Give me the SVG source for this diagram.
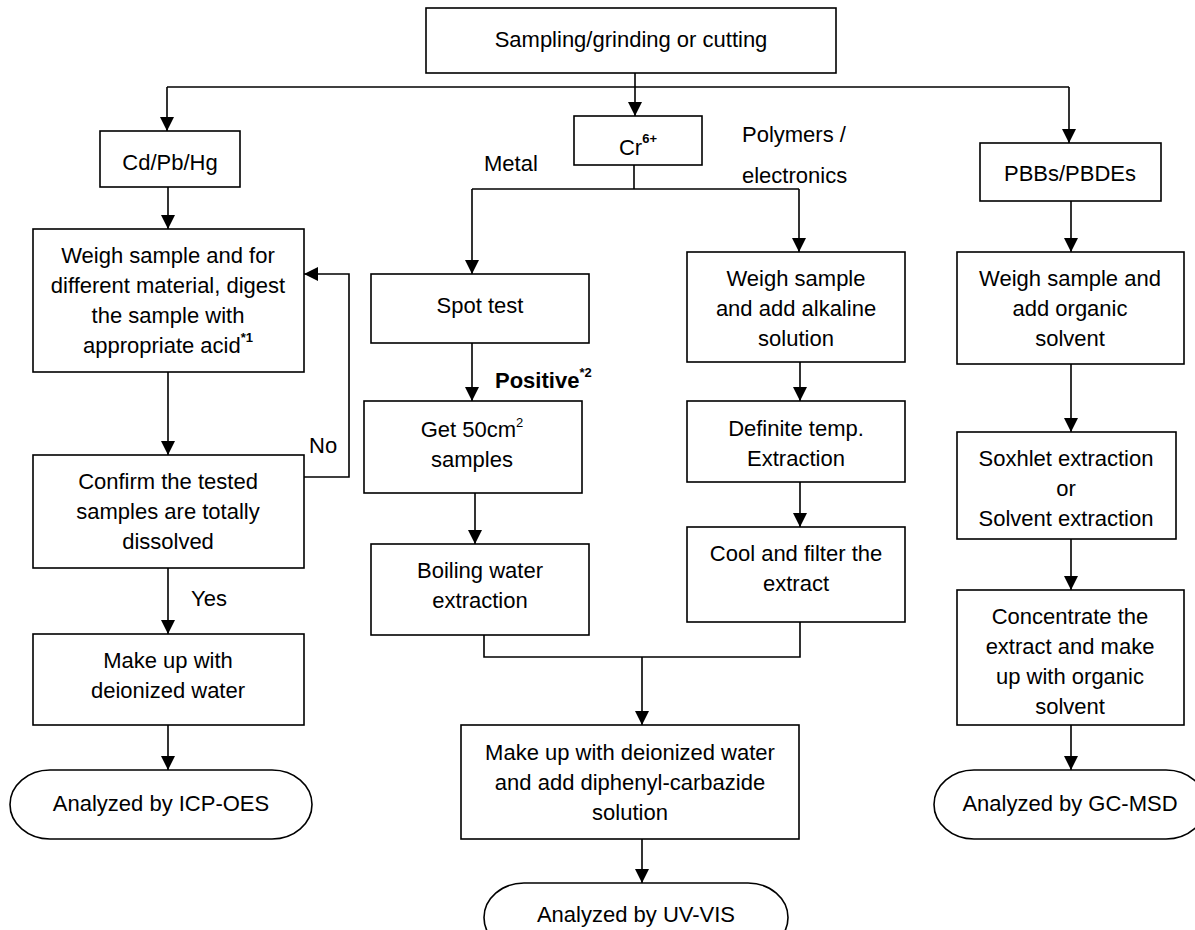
<svg xmlns="http://www.w3.org/2000/svg" width="1195" height="930" viewBox="0 0 1195 930">
<style>
rect, .oval { fill: #fff; stroke: #000; stroke-width: 1.6; }
text { font-family: "Liberation Sans", Arial, sans-serif; font-size: 22px; fill: #000; }
.c { text-anchor: middle; }
.b { font-weight: bold; }
.sup { font-size: 13px; font-weight: bold; }
.supr { font-size: 13px; }
#connectors path { fill: none; stroke: #000; stroke-width: 1.6; }
</style>
<defs>
<marker id="arr" markerUnits="userSpaceOnUse" markerWidth="14" markerHeight="14" refX="14" refY="7" orient="auto">
<path d="M0,0 L14,7 L0,14 z" fill="#000"/>
</marker>
</defs>
<rect x="0" y="0" width="1195" height="930" style="fill:#fff;stroke:none"/>

<g id="connectors">
<path d="M635,73 V116" marker-end="url(#arr)"/>
<path d="M167,87 H1069"/>
<path d="M167,87 V131" marker-end="url(#arr)"/>
<path d="M1069,87 V143" marker-end="url(#arr)"/>
<path d="M168,187 V229" marker-end="url(#arr)"/>
<path d="M634,165 V189"/>
<path d="M472,189 H799"/>
<path d="M472,189 V274" marker-end="url(#arr)"/>
<path d="M799,189 V252" marker-end="url(#arr)"/>
<path d="M1071,201 V252" marker-end="url(#arr)"/>
<path d="M168,372 V455" marker-end="url(#arr)"/>
<path d="M304,477 H349 V274 H304" marker-end="url(#arr)"/>
<path d="M168,568 V634" marker-end="url(#arr)"/>
<path d="M168,725 V770" marker-end="url(#arr)"/>
<path d="M472,343 V401" marker-end="url(#arr)"/>
<path d="M475,493 V544" marker-end="url(#arr)"/>
<path d="M800,362 V401" marker-end="url(#arr)"/>
<path d="M800,482 V527" marker-end="url(#arr)"/>
<path d="M484,635 V657 H800 V622"/>
<path d="M642,657 V725" marker-end="url(#arr)"/>
<path d="M642,839 V883" marker-end="url(#arr)"/>
<path d="M1071,364 V432" marker-end="url(#arr)"/>
<path d="M1071,539 V590" marker-end="url(#arr)"/>
<path d="M1071,725 V770" marker-end="url(#arr)"/>
</g>

<g id="labels">
<text x="484" y="171">Metal</text>
<text x="742" y="142">Polymers /</text>
<text x="742" y="183">electronics</text>
<text x="309" y="453">No</text>
<text x="191" y="606">Yes</text>
<text x="495" y="388" class="b">Positive<tspan class="sup" dy="-11">*2</tspan></text>
</g>

<g id="n-sampling">
<rect x="426" y="8" width="410" height="65"/>
<text x="631" y="47" class="c">Sampling/grinding or cutting</text>
</g>

<g id="n-cdpbhg">
<rect x="100" y="131" width="140" height="56"/>
<text x="170" y="170" class="c">Cd/Pb/Hg</text>
</g>

<g id="n-cr">
<rect x="574" y="116" width="128" height="49"/>
<text x="638" y="155" class="c">Cr<tspan class="sup" dy="-12">6+</tspan></text>
</g>

<g id="n-pbbs">
<rect x="980" y="143" width="181" height="58"/>
<text x="1070" y="181" class="c">PBBs/PBDEs</text>
</g>

<g id="n-weigh-acid">
<rect x="33" y="229" width="271" height="143"/>
<text x="168" y="263" class="c">Weigh sample and for</text>
<text x="168" y="293" class="c">different material, digest</text>
<text x="168" y="323" class="c">the sample with</text>
<text x="168" y="353" class="c">appropriate acid<tspan class="sup" dy="-11">*1</tspan></text>
</g>

<g id="n-spot">
<rect x="371" y="274" width="218" height="69"/>
<text x="480" y="313" class="c">Spot test</text>
</g>

<g id="n-weigh-alk">
<rect x="687" y="252" width="218" height="110"/>
<text x="796" y="286" class="c">Weigh sample</text>
<text x="796" y="316" class="c">and add alkaline</text>
<text x="796" y="346" class="c">solution</text>
</g>

<g id="n-weigh-org">
<rect x="957" y="252" width="227" height="112"/>
<text x="1070" y="286" class="c">Weigh sample and</text>
<text x="1070" y="316" class="c">add organic</text>
<text x="1070" y="346" class="c">solvent</text>
</g>

<g id="n-confirm">
<rect x="33" y="455" width="271" height="113"/>
<text x="168" y="489" class="c">Confirm the tested</text>
<text x="168" y="519" class="c">samples are totally</text>
<text x="168" y="549" class="c">dissolved</text>
</g>

<g id="n-get50">
<rect x="364" y="401" width="218" height="92"/>
<text x="472" y="437" class="c">Get 50cm<tspan class="supr" dy="-10">2</tspan></text>
<text x="472" y="467" class="c">samples</text>
</g>

<g id="n-boiling">
<rect x="371" y="544" width="218" height="91"/>
<text x="480" y="578" class="c">Boiling water</text>
<text x="480" y="608" class="c">extraction</text>
</g>

<g id="n-definite">
<rect x="687" y="401" width="218" height="81"/>
<text x="796" y="436" class="c">Definite temp.</text>
<text x="796" y="466" class="c">Extraction</text>
</g>

<g id="n-cool">
<rect x="687" y="527" width="218" height="95"/>
<text x="796" y="561" class="c">Cool and filter the</text>
<text x="796" y="591" class="c">extract</text>
</g>

<g id="n-soxhlet">
<rect x="957" y="432" width="219" height="107"/>
<text x="1066" y="466" class="c">Soxhlet extraction</text>
<text x="1066" y="496" class="c">or</text>
<text x="1066" y="526" class="c">Solvent extraction</text>
</g>

<g id="n-concentrate">
<rect x="957" y="590" width="227" height="135"/>
<text x="1070" y="624" class="c">Concentrate the</text>
<text x="1070" y="654" class="c">extract and make</text>
<text x="1070" y="684" class="c">up with organic</text>
<text x="1070" y="714" class="c">solvent</text>
</g>

<g id="n-makeup-left">
<rect x="33" y="634" width="271" height="91"/>
<text x="168" y="668" class="c">Make up with</text>
<text x="168" y="698" class="c">deionized water</text>
</g>

<g id="n-makeup-center">
<rect x="461" y="725" width="338" height="114"/>
<text x="630" y="760" class="c">Make up with deionized water</text>
<text x="630" y="790" class="c">and add diphenyl-carbazide</text>
<text x="630" y="820" class="c">solution</text>
</g>

<g id="n-icp">
<rect class="oval" x="10" y="770" width="302" height="69" rx="40" ry="34.5"/>
<text x="161" y="811" class="c">Analyzed by ICP-OES</text>
</g>

<g id="n-uvvis">
<rect class="oval" x="484" y="883" width="304" height="69" rx="40" ry="34.5"/>
<text x="636" y="922" class="c">Analyzed by UV-VIS</text>
</g>

<g id="n-gcmsd">
<rect class="oval" x="934" y="770" width="272" height="69" rx="40" ry="34.5"/>
<text x="1070" y="811" class="c">Analyzed by GC-MSD</text>
</g>
</svg>
